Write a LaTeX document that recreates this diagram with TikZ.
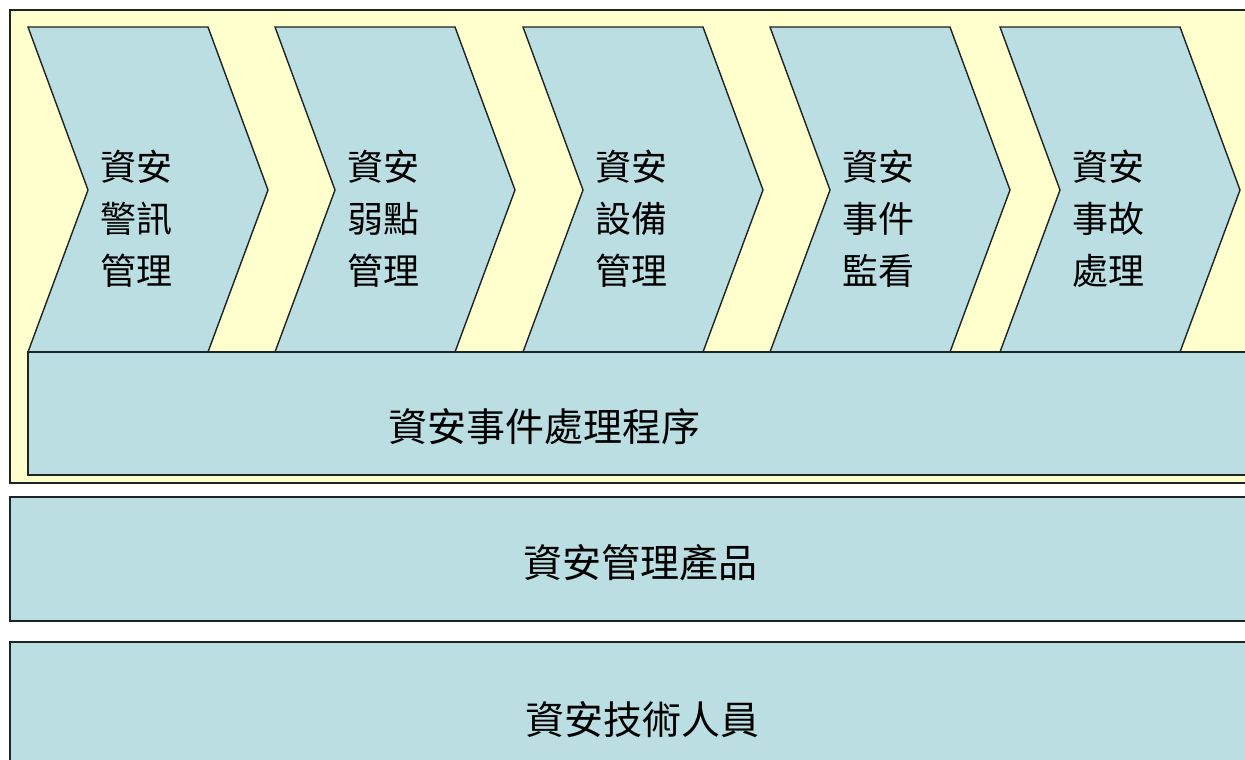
\documentclass[tikz,border=0pt]{standalone}
\usepackage{fontspec}
\newfontfamily\cjk{Noto Sans CJK TC}
\definecolor{cream}{RGB}{255,255,206}
\definecolor{paleteal}{RGB}{186,222,226}
\definecolor{edge}{RGB}{30,36,36}
\begin{document}
\begin{tikzpicture}[x=1pt,y=-1pt,
  framebox/.style={fill=cream,draw=edge,line width=1.6pt},
  chevbox/.style={fill=paleteal,draw=edge,line width=1.4pt,line join=miter},
  barbox/.style={fill=paleteal,draw=edge,line width=1.6pt},
  chevtext/.style={font=\cjk\fontsize{36}{52}\selectfont,align=center,inner sep=0pt},
  bartext/.style={font=\cjk\fontsize{39}{46}\selectfont,inner sep=0pt}]
\useasboundingbox (0,0) rectangle (1245,760);
\clip (0,0) rectangle (1245,760);
\fill[white] (0,0) rectangle (1245,760);
% outer frame
\draw[framebox] (10,10) rectangle (1270,483);
% chevrons
\foreach \lx/\nm/\txt in {28/c1/{資安\\警訊\\管理},275/c2/{資安\\弱點\\管理},523/c3/{資安\\設備\\管理},770/c4/{資安\\事件\\監看},1000/c5/{資安\\事故\\處理}}{
  \draw[chevbox] (\lx,27) -- ++(180,0) -- ++(60,163) -- ++(-60,162) -- ++(-180,0) -- ++(60,-162) -- cycle;
  \node[chevtext] (\nm) at (\lx+108,219) {\txt};
}
% bars
\draw[barbox] (28,352) rectangle (1270,475);
\node[bartext] (b1) at (544,427) {資安事件處理程序};
\draw[barbox] (10,497) rectangle (1270,621);
\node[bartext] (b2) at (640,563) {資安管理產品};
\draw[barbox] (10,642) rectangle (1270,790);
\node[bartext] (b3) at (642,720) {資安技術人員};
\end{tikzpicture}
\end{document}
